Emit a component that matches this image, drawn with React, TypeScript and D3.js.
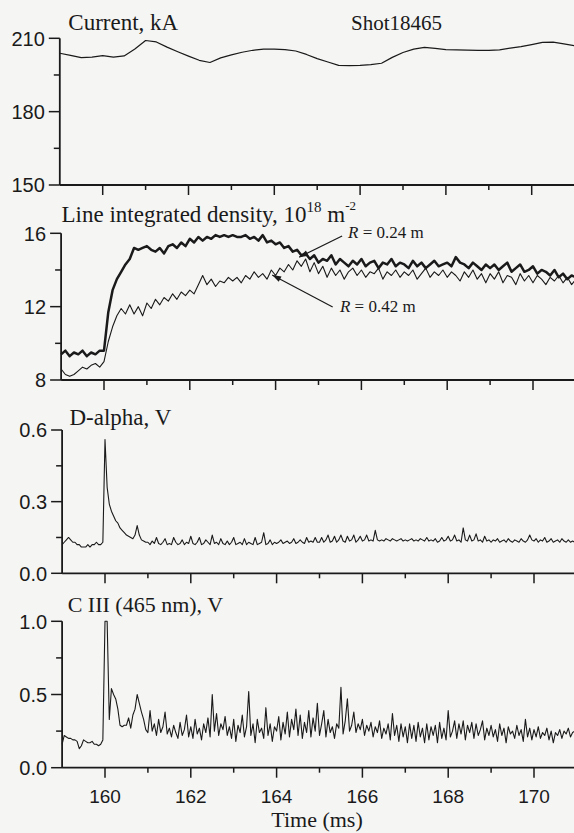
import * as d3 from "d3";

// time base (ms)
const T0 = 159;
const DT_CURRENT = 0.25;
const DT_DENSITY = 0.1;
const DT_FAST = 0.05;

// Current, kA (every 0.25 ms from 159.0)
const currentKA = [
  203.9, 203.0, 202.1, 202.3, 202.9, 202.3, 202.8, 205.6, 209.1, 208.5,
  206.4, 204.5, 202.7, 201.0, 200.1, 202.0, 203.2, 204.3, 205.1, 205.6,
  205.6, 205.4, 204.8, 203.4, 201.7, 200.3, 198.9, 198.8, 198.9, 199.2,
  199.8, 202.2, 204.2, 205.6, 206.3, 205.9, 205.4, 205.3, 205.2, 205.1,
  205.1, 205.3, 206.0, 206.6, 207.4, 208.3, 208.4, 207.7, 207.0,
];

// Line integrated density, 1e18 m^-2 (every 0.1 ms from 159.0)
const densityR024 = [
  9.4, 9.6, 9.3, 9.5, 9.4, 9.6, 9.3, 9.5, 9.4, 9.6,
  9.6, 11.7, 12.9, 13.5, 13.9, 14.3, 14.6, 15.2, 15.1, 15.2,
  15.3, 15.1, 15.0, 15.2, 14.9, 15.3, 15.4, 15.2, 15.5, 15.3,
  15.7, 15.5, 15.8, 15.6, 15.8, 15.7, 15.9, 15.8, 15.9, 15.8,
  15.9, 15.8, 15.8, 15.9, 15.7, 15.8, 15.6, 15.9, 15.5, 15.6,
  15.4, 15.5, 15.2, 15.3, 15.0, 15.1, 14.8, 14.9, 14.6, 14.8,
  14.4, 14.6, 14.5, 14.8, 14.3, 14.6, 14.4, 14.2, 14.5, 14.3,
  14.6, 14.2, 14.4, 14.5, 14.1, 14.4, 14.3, 14.6, 14.2, 14.4,
  14.3, 14.1, 14.5, 14.2, 14.4, 14.1, 14.3, 14.5, 14.2, 14.3,
  14.4, 14.2, 14.7, 14.4, 14.3, 14.1, 14.4, 14.2, 14.0, 14.3,
  14.1, 14.3, 14.0, 14.2, 14.4, 13.9, 14.1, 14.3, 13.9, 14.0,
  14.2, 13.8, 14.0, 13.9, 13.7, 14.0, 13.6, 13.8, 13.5, 13.7,
  13.6,
];

const densityR042 = [
  8.6, 8.3, 8.2, 8.3, 8.5, 8.7, 8.6, 8.8, 8.9, 8.7,
  9.0, 10.1, 10.9, 11.5, 11.9, 11.6, 12.1, 11.6, 12.0, 11.5,
  12.2, 11.9, 12.4, 12.1, 12.5, 12.3, 12.7, 12.4, 12.8, 12.6,
  12.9, 12.7, 13.2, 13.7, 13.2, 13.5, 13.1, 13.4, 13.3, 13.6,
  13.4, 13.6, 13.3, 13.7, 13.5, 13.9, 13.6, 13.8, 13.5, 14.0,
  13.7, 14.1, 13.9, 14.3, 14.0, 14.5, 14.2, 14.6, 13.9, 14.4,
  13.8, 14.2, 13.6, 14.1, 13.7, 14.0, 13.5, 13.9, 14.1, 13.7,
  14.0, 13.6, 13.9, 13.8, 14.1, 13.5, 13.9, 13.7, 14.0, 13.6,
  13.9, 13.7, 14.0, 13.5, 13.8, 14.1, 13.6, 13.9, 13.7, 14.0,
  13.6, 13.9, 13.7, 13.4, 13.9, 13.6, 14.0, 13.5, 13.8, 13.3,
  13.8, 13.5, 13.9, 13.3, 13.7, 13.6, 13.2, 13.8, 13.4, 13.7,
  13.3, 13.7, 13.5, 13.2, 13.6, 13.4, 13.7, 13.3, 13.6, 13.2,
  13.5,
];

// D-alpha, V (every 0.05 ms from 159.0)
const dAlphaV = [
  0.12, 0.13, 0.14, 0.15, 0.14, 0.13, 0.13, 0.12, 0.12, 0.11, 0.11, 0.11, 0.12, 0.11, 0.12, 0.12, 0.13, 0.12, 0.12, 0.13,
  0.56, 0.36, 0.29, 0.26, 0.24, 0.22, 0.21, 0.19, 0.18, 0.17, 0.16, 0.155, 0.15, 0.145, 0.16, 0.2, 0.16, 0.14, 0.135, 0.13,
  0.13, 0.12, 0.135, 0.125, 0.15, 0.125, 0.12, 0.13, 0.145, 0.12, 0.125, 0.12, 0.15, 0.13, 0.12, 0.125, 0.14, 0.12, 0.13, 0.125,
  0.155, 0.125, 0.12, 0.13, 0.15, 0.12, 0.125, 0.14, 0.13, 0.12, 0.16, 0.125, 0.13, 0.12, 0.145, 0.125, 0.12, 0.135, 0.12, 0.13,
  0.15, 0.12, 0.125, 0.13, 0.12, 0.145, 0.12, 0.13, 0.125, 0.12, 0.15, 0.12, 0.125, 0.13, 0.17, 0.12, 0.125, 0.14, 0.12, 0.13,
  0.125, 0.13, 0.14, 0.125, 0.13, 0.135, 0.125, 0.13, 0.145, 0.125, 0.13, 0.14, 0.13, 0.125, 0.15, 0.13, 0.135, 0.13, 0.15, 0.13,
  0.13, 0.15, 0.13, 0.14, 0.16, 0.13, 0.135, 0.155, 0.13, 0.14, 0.16, 0.135, 0.13, 0.155, 0.135, 0.14, 0.16, 0.13, 0.14, 0.155,
  0.135, 0.14, 0.16, 0.135, 0.14, 0.135, 0.18, 0.14, 0.135, 0.14, 0.135, 0.145, 0.14, 0.135, 0.145, 0.14, 0.135, 0.14, 0.145, 0.135,
  0.14, 0.135, 0.14, 0.145, 0.135, 0.14, 0.135, 0.145, 0.14, 0.135, 0.15, 0.135, 0.14, 0.135, 0.145, 0.13, 0.135, 0.15, 0.135, 0.14,
  0.155, 0.135, 0.14, 0.16, 0.135, 0.14, 0.13, 0.19, 0.14, 0.135, 0.16, 0.135, 0.14, 0.165, 0.135, 0.14, 0.13, 0.155, 0.135, 0.14,
  0.13, 0.14, 0.135, 0.145, 0.13, 0.135, 0.14, 0.13, 0.145, 0.135, 0.13, 0.14, 0.135, 0.13, 0.145, 0.135, 0.13, 0.14, 0.16, 0.14,
  0.135, 0.145, 0.13, 0.14, 0.135, 0.15, 0.13, 0.135, 0.145, 0.13, 0.135, 0.14, 0.13, 0.145, 0.135, 0.13, 0.14, 0.13, 0.135, 0.13,
  0.13,
];

// C III (465 nm), V (every 0.05 ms from 159.0)
const cIIIV = [
  0.16, 0.22, 0.21, 0.2, 0.2, 0.19, 0.19, 0.18, 0.13, 0.15, 0.19, 0.18, 0.17, 0.17, 0.18, 0.16, 0.16, 0.15, 0.16, 0.19,
  1.0, 1.0, 0.33, 0.54, 0.5, 0.47, 0.4, 0.29, 0.28, 0.29, 0.29, 0.34, 0.27, 0.36, 0.4, 0.5, 0.44, 0.38, 0.33, 0.26,
  0.24, 0.39, 0.25, 0.3, 0.22, 0.33, 0.24, 0.28, 0.38, 0.23, 0.27, 0.21, 0.29, 0.24, 0.2, 0.31, 0.22, 0.26, 0.36, 0.21,
  0.28, 0.2, 0.33, 0.23, 0.27, 0.19, 0.3, 0.24, 0.34, 0.21, 0.5, 0.25, 0.37, 0.22, 0.3, 0.26, 0.35, 0.22, 0.28, 0.2,
  0.33, 0.18, 0.29, 0.24, 0.36, 0.21, 0.28, 0.52, 0.22, 0.3, 0.17, 0.33, 0.24, 0.27, 0.2, 0.41, 0.22, 0.3, 0.18, 0.28,
  0.25, 0.35, 0.19, 0.31, 0.23, 0.38, 0.21, 0.33, 0.26, 0.4, 0.22, 0.36, 0.2, 0.31, 0.24, 0.39, 0.21, 0.34, 0.25, 0.44,
  0.22, 0.3, 0.39, 0.21, 0.33, 0.24, 0.28, 0.2, 0.3, 0.27, 0.55, 0.23, 0.32, 0.47, 0.25, 0.29, 0.38, 0.24, 0.3, 0.26,
  0.33, 0.22, 0.29, 0.25, 0.31, 0.21, 0.28, 0.24, 0.32, 0.2, 0.27, 0.23, 0.3, 0.19, 0.37, 0.22, 0.29, 0.18, 0.3, 0.21,
  0.28, 0.17, 0.3, 0.2, 0.29, 0.18, 0.31, 0.21, 0.27, 0.17, 0.3, 0.19, 0.28, 0.22, 0.29, 0.17, 0.31, 0.2, 0.27, 0.19,
  0.39, 0.21, 0.25, 0.32, 0.2, 0.3, 0.23, 0.32, 0.19, 0.29, 0.24, 0.31, 0.2, 0.3, 0.22, 0.26, 0.32, 0.19, 0.27, 0.22,
  0.29, 0.21, 0.26, 0.18, 0.3, 0.22, 0.27, 0.17, 0.28, 0.23, 0.25, 0.2, 0.29, 0.22, 0.26, 0.18, 0.33, 0.21, 0.27, 0.19,
  0.26, 0.21, 0.28, 0.2, 0.24, 0.22, 0.27, 0.19, 0.25, 0.17, 0.24, 0.22, 0.26, 0.2, 0.25, 0.23, 0.27, 0.21, 0.24, 0.25,
  0.26,
];

const timeMajor = [160, 162, 164, 166, 168, 170];
const timeMinor = [161, 163, 165, 167, 169];

const W = 574;
const H = 833;
const INK = "#1a1a1a";
const SERIF = "'Liberation Serif', 'Times New Roman', serif";
const SANS = "'Liberation Sans', Arial, sans-serif";

const x = d3.scaleLinear().domain([T0, 171]).range([62.1, 576.9]);

const panels = [
  {
    key: "current", dx: -2.3, domain: [150, 210], range: [185, 38.3],
    major: [150, 180, 210], minor: [165, 195], fmt: d3.format("d"),
    series: [{ values: currentKA, dt: DT_CURRENT, width: 1.2 }],
  },
  {
    key: "density", dx: -1, domain: [8, 16], range: [380, 233.3],
    major: [8, 12, 16], minor: [10, 14], fmt: d3.format("d"),
    series: [
      { values: densityR042, dt: DT_DENSITY, width: 1.1 },
      { values: densityR024, dt: DT_DENSITY, width: 2.5 },
    ],
  },
  {
    key: "dalpha", dx: 0, domain: [0, 0.6], range: [573.3, 430],
    major: [0, 0.3, 0.6], minor: [0.15, 0.45], fmt: d3.format(".1f"),
    series: [{ values: dAlphaV, dt: DT_FAST, width: 1.1 }],
  },
  {
    key: "c3", dx: 0, domain: [0, 1], range: [767.7, 621.3],
    major: [0, 0.5, 1], minor: [0.25, 0.75], fmt: d3.format(".1f"),
    series: [{ values: cIIIV, dt: DT_FAST, width: 1.1 }],
  },
];

// annotation arrows for the density panel: [time, value]
const annotations = [
  { label: "0.24", text: [165.69, 15.74], tail: [165.55, 15.85], tip: [164.55, 14.7] },
  { label: "0.42", text: [165.5, 11.7], tail: [165.33, 11.98], tip: [163.92, 13.73] },
];

function arrowHead(x1: number, y1: number, x2: number, y2: number) {
  const a = Math.atan2(y2 - y1, x2 - x1);
  const len = 9;
  const w = 3;
  const bx = x2 - len * Math.cos(a);
  const by = y2 - len * Math.sin(a);
  const px = -Math.sin(a) * w;
  const py = Math.cos(a) * w;
  return `M${x2},${y2}L${bx + px},${by + py}L${bx - px},${by - py}Z`;
}

export default function App() {
  return (
    <svg
      width={W}
      height={H}
      style={{ position: "absolute", left: 0, top: 0, display: "block" }}
    >
      <rect width={W} height={H} fill="#f5f5f4" />
      {panels.map((p) => {
        const y = d3.scaleLinear().domain(p.domain).range(p.range);
        const x0 = x(T0) + p.dx;
        const yBot = y(p.domain[0]);
        const yTop = y(p.domain[1]);
        return (
          <g key={p.key}>
            {p.series.map((s, si) => {
              const line = d3
                .line<number>()
                .x((_, i) => x(T0 + i * s.dt) + p.dx)
                .y((d) => y(d));
              return (
                <path
                  key={si}
                  d={line(s.values) || ""}
                  fill="none"
                  stroke={INK}
                  strokeWidth={s.width}
                  strokeLinejoin="round"
                />
              );
            })}
            <line x1={x0} x2={x0} y1={yTop} y2={yBot} stroke={INK} strokeWidth={1.8} />
            <line x1={x0} x2={W} y1={yBot} y2={yBot} stroke={INK} strokeWidth={1.8} />
            {p.major.map((v) => (
              <g key={"ym" + v}>
                <line x1={x0 - 11} x2={x0} y1={y(v)} y2={y(v)} stroke={INK} strokeWidth={1.5} />
                <text
                  x={x0 - 15}
                  y={y(v)}
                  dy="0.36em"
                  textAnchor="end"
                  fontFamily={SANS}
                  fontSize={20}
                  fill={INK}
                >
                  {p.fmt(v)}
                </text>
              </g>
            ))}
            {p.minor.map((v) => (
              <line key={"yn" + v} x1={x0 - 6} x2={x0} y1={y(v)} y2={y(v)} stroke={INK} strokeWidth={1.5} />
            ))}
            {timeMajor.map((t) => (
              <line key={"xm" + t} x1={x(t) + p.dx} x2={x(t) + p.dx} y1={yBot} y2={yBot + 10} stroke={INK} strokeWidth={1.5} />
            ))}
            {timeMinor.map((t) => (
              <line key={"xn" + t} x1={x(t) + p.dx} x2={x(t) + p.dx} y1={yBot} y2={yBot + 5} stroke={INK} strokeWidth={1.5} />
            ))}
            {p.key === "c3" &&
              timeMajor.map((t) => (
                <text
                  key={"xl" + t}
                  x={x(t)}
                  y={yBot + 35}
                  textAnchor="middle"
                  fontFamily={SANS}
                  fontSize={19}
                  fill={INK}
                >
                  {t}
                </text>
              ))}
            {p.key === "density" &&
              annotations.map((a) => {
                const tx = x(a.text[0]) + p.dx;
                const ty = y(a.text[1]);
                const x1 = x(a.tail[0]) + p.dx;
                const y1 = y(a.tail[1]);
                const x2 = x(a.tip[0]) + p.dx;
                const y2 = y(a.tip[1]);
                return (
                  <g key={a.label}>
                    <line x1={x1} y1={y1} x2={x2} y2={y2} stroke={INK} strokeWidth={1.2} />
                    <path d={arrowHead(x1, y1, x2, y2)} fill={INK} />
                    <text x={tx} y={ty} fontFamily={SERIF} fontSize={17} fill={INK}>
                      <tspan fontStyle="italic">R</tspan>
                      {" = " + a.label + " m"}
                    </text>
                  </g>
                );
              })}
          </g>
        );
      })}

      <g fontFamily={SERIF} fill={INK}>
        <text x={68.3} y={30} fontSize={23}>Current, kA</text>
        <text x={351} y={30} fontSize={21}>Shot18465</text>
        <text x={61.5} y={221.7} fontSize={23}>
          Line integrated density, 10
          <tspan dy={-10} fontSize={15}>18</tspan>
          <tspan dy={10}> m</tspan>
          <tspan dy={-12} fontSize={13}>-2</tspan>
        </text>
        <text x={69.5} y={425} fontSize={23}>D-alpha, V</text>
        <text x={67.7} y={611.7} fontSize={22}>C III (465 nm), V</text>
        <text x={317} y={827} fontSize={22} textAnchor="middle">Time (ms)</text>
      </g>
    </svg>
  );
}
